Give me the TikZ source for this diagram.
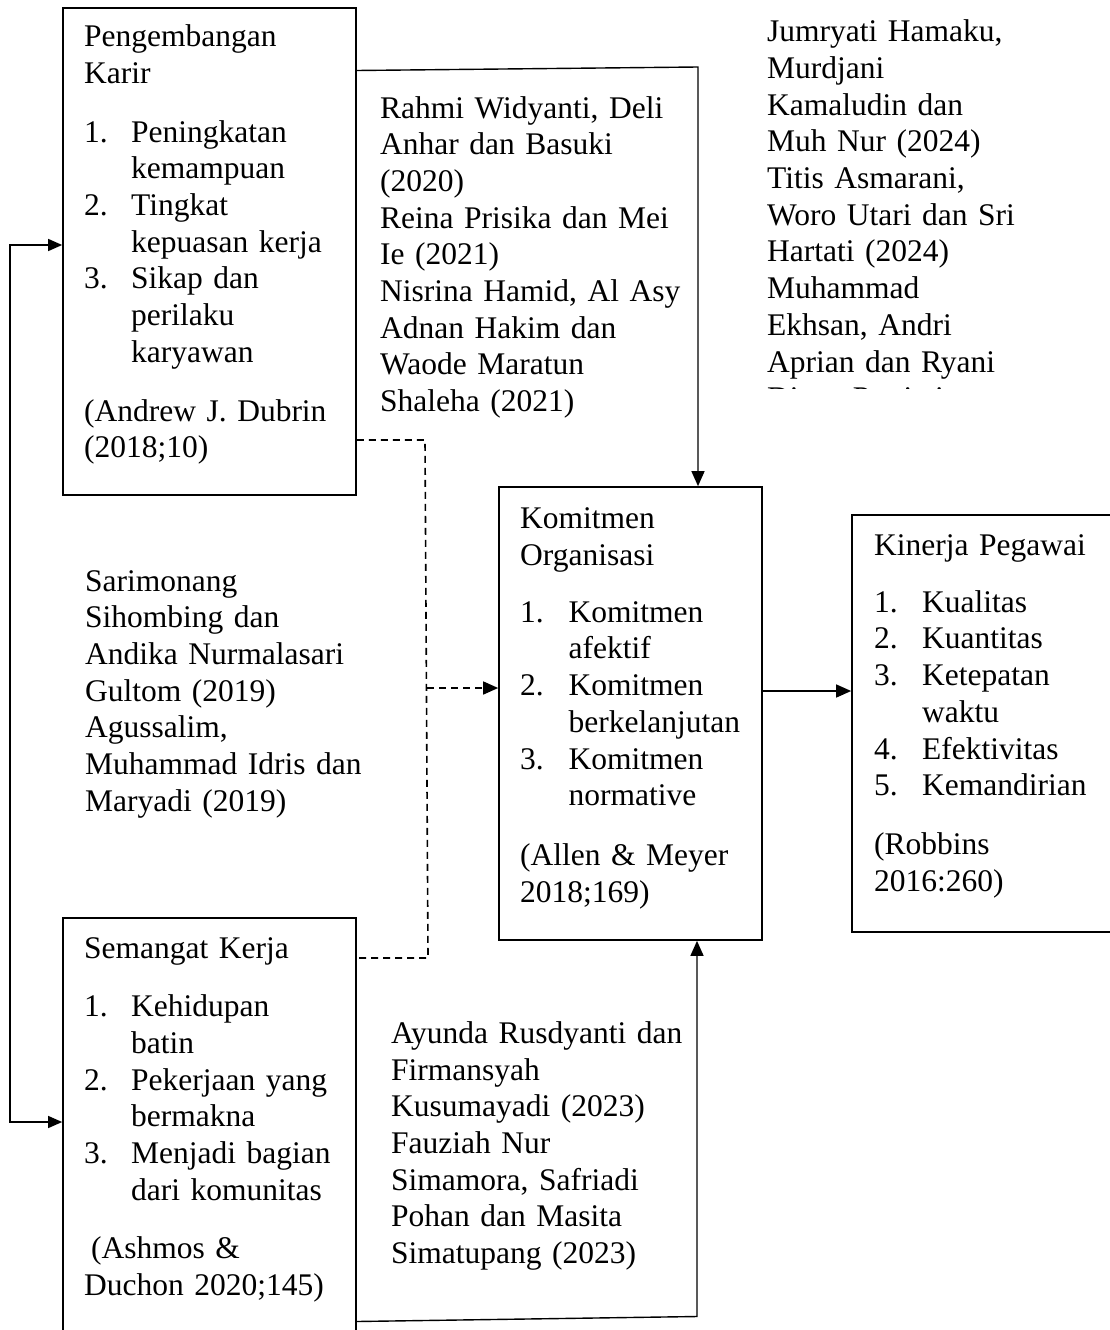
\documentclass[tikz,border=0pt]{standalone}
\usepackage{fontspec}
\setmainfont{Liberation Serif}
\usetikzlibrary{arrows.meta}
\newcommand{\nlab}[2][46pt]{\makebox[#1][l]{#2}}
\newcommand{\nind}[1][46pt]{\hspace*{#1}}
\begin{document}
\begin{tikzpicture}[x=1pt,y=-1pt,
  box/.style={draw, line width=1.7pt, inner sep=0pt},
  txt/.style={anchor=base west, inner sep=0pt, text width=#1, align=left,
    font=\fontsize{31.5}{36.7}\selectfont},
  conn/.style={line width=1.4pt},
  tip/.style={-{Triangle[length=15pt,width=13pt]}},
  dsh/.style={line width=1.6pt, dash pattern=on 7pt off 5pt}]
\clip (0,0) rectangle (1110,1330);
\useasboundingbox (0,0) rectangle (1110,1330);

% boxes
\node[box, minimum width=293pt, minimum height=487pt] (boxA) at (209.5,251.5) {};
\node[box, minimum width=293pt, minimum height=440pt] (boxB) at (209.5,1138) {};
\node[box, minimum width=263pt, minimum height=453pt] (boxC) at (630.5,713.5) {};
\node[box, minimum width=290pt, minimum height=417pt] (boxD) at (997,723.5) {};

% texts in boxes
\node[txt=380pt] (tA) at (84,46.7) {Pengembangan\\
Karir\\[22pt]
\nlab[47pt]{1.}Peningkatan\\
\nind[47pt]kemampuan\\
\nlab[47pt]{2.}Tingkat\\
\nind[47pt]kepuasan kerja\\
\nlab[47pt]{3.}Sikap dan\\
\nind[47pt]perilaku\\
\nind[47pt]karyawan\\[22pt]
(Andrew J. Dubrin\\
(2018;10)};

\node[txt=380pt] (tB) at (84,958) {Semangat Kerja\\[22pt]
\nlab[47pt]{1.}Kehidupan\\
\nind[47pt]batin\\
\nlab[47pt]{2.}Pekerjaan yang\\
\nind[47pt]bermakna\\
\nlab[47pt]{3.}Menjadi bagian\\
\nind[47pt]dari komunitas\\[21.6pt]
\hspace*{7pt}(Ashmos \&\\
Duchon 2020;145)};

\node[txt=380pt] (tC) at (520,528.3) {Komitmen\\
Organisasi\\[20.5pt]
\nlab[48.5pt]{1.}Komitmen\\
\nind[48.5pt]afektif\\
\nlab[48.5pt]{2.}Komitmen\\
\nind[48.5pt]berkelanjutan\\
\nlab[48.5pt]{3.}Komitmen\\
\nind[48.5pt]normative\\[23pt]
(Allen \& Meyer\\
2018;169)};

\node[txt=380pt] (tD) at (874,555) {Kinerja Pegawai\\[20.5pt]
\nlab[48pt]{1.}Kualitas\\
\nlab[48pt]{2.}Kuantitas\\
\nlab[48pt]{3.}Ketepatan\\
\nind[48pt]waktu\\
\nlab[48pt]{4.}Efektivitas\\
\nlab[48pt]{5.}Kemandirian\\[22.5pt]
(Robbins\\
2016:260)};

% free texts
\node[txt=380pt] (tR) at (380,118) {Rahmi Widyanti, Deli\\
Anhar dan Basuki\\
(2020)\\
Reina Prisika dan Mei\\
Ie (2021)\\
Nisrina Hamid, Al Asy\\
Adnan Hakim dan\\
Waode Maratun\\
Shaleha (2021)};

\begin{scope}
\clip (740,0) rectangle (1110,388.8);
\node[txt=360pt] (tJ) at (767,41.7) {Jumryati Hamaku,\\
Murdjani\\
Kamaludin dan\\
Muh Nur (2024)\\
Titis Asmarani,\\
Woro Utari dan Sri\\
Hartati (2024)\\
Muhammad\\
Ekhsan, Andri\\
Aprian dan Ryani\\
Diana Pratiwi};
\end{scope}

\node[txt=380pt] (tS) at (85,591) {Sarimonang\\
Sihombing dan\\
Andika Nurmalasari\\
Gultom (2019)\\
Agussalim,\\
Muhammad Idris dan\\
Maryadi (2019)};

\node[txt=380pt] (tY) at (391,1043.3) {Ayunda Rusdyanti dan\\
Firmansyah\\
Kusumayadi (2023)\\
Fauziah Nur\\
Simamora, Safriadi\\
Pohan dan Masita\\
Simatupang (2023)};

% connector coordinates
\coordinate (la) at (10,245);
\coordinate (lb) at (10,1122);
\coordinate (t0) at (356,70.5);
\coordinate (t1) at (698,67);
\coordinate (d1) at (425,440);
\coordinate (d2) at (428,958);
\coordinate (d3) at (427,688);
\coordinate (m0) at (800,691);
\coordinate (b0) at (356,1321.5);
\coordinate (b1) at (697,1316.5);

% connectors
\draw[conn, {Triangle[length=14pt,width=12pt]}-{Triangle[length=14pt,width=12pt]}]
  (boxA.west |- la) -- (la) -- (lb) -- (boxB.west |- lb);
\draw[conn, tip] (boxA.east |- t0) -- (t1) -- (boxC.north -| t1);
\draw[dsh] (boxA.east |- d1) -- (d1) -- (d2) -- (boxB.east |- d2);
\draw[dsh, tip] (d3) -- (boxC.west |- d3);
\draw[conn, tip] (boxC.east |- m0) -- (boxD.west |- m0);
\draw[conn, tip] (boxB.east |- b0) -- (b1) -- (boxC.south -| b1);
\end{tikzpicture}
\end{document}
